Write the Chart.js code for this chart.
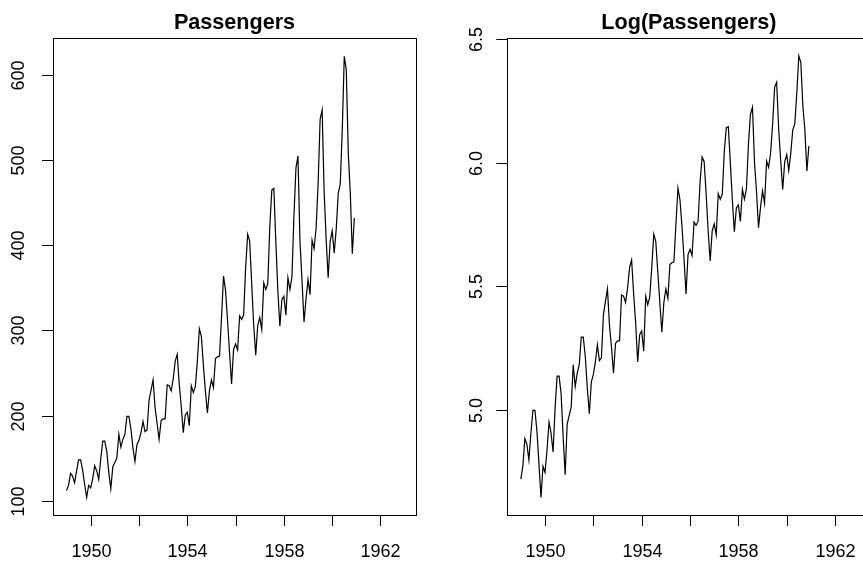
<!DOCTYPE html>
<html>
<head>
<meta charset="utf-8">
<script src="https://cdn.jsdelivr.net/npm/chart.js@4/dist/chart.umd.min.js"></script>
<style>
  html, body { margin: 0; padding: 0; background: #fff; overflow: hidden; }
  body { width: 863px; height: 561px; position: relative; }
  .panel { position: absolute; top: 0; }
  #left { left: 0; width: 431px; height: 561px; }
  #right { left: 431px; width: 450px; height: 561px; }
</style>
</head>
<body>
<div class="panel" id="left"><canvas id="c1" width="431" height="561"></canvas></div>
<div class="panel" id="right"><canvas id="c2" width="450" height="561"></canvas></div>
<script>
// Monthly international airline passengers (thousands), 1949-1960
const years = [1949, 1950, 1951, 1952, 1953, 1954, 1955, 1956, 1957, 1958, 1959, 1960];
const passengers = [
  112, 118, 132, 129, 121, 135, 148, 148, 136, 119, 104, 118,
  115, 126, 141, 135, 125, 149, 170, 170, 158, 133, 114, 140,
  145, 150, 178, 163, 172, 178, 199, 199, 184, 162, 146, 166,
  171, 180, 193, 181, 183, 218, 230, 242, 209, 191, 172, 194,
  196, 196, 236, 235, 229, 243, 264, 272, 237, 211, 180, 201,
  204, 188, 235, 227, 234, 264, 302, 293, 259, 229, 203, 229,
  242, 233, 267, 269, 270, 315, 364, 347, 312, 274, 237, 278,
  284, 277, 317, 313, 318, 374, 413, 405, 355, 306, 271, 306,
  315, 301, 356, 348, 355, 422, 465, 467, 404, 347, 305, 336,
  340, 318, 362, 348, 363, 435, 491, 505, 404, 359, 310, 337,
  360, 342, 406, 396, 420, 472, 548, 559, 463, 407, 362, 405,
  417, 391, 419, 461, 472, 535, 622, 606, 508, 461, 390, 432
];
const xTicks = [1950, 1952, 1954, 1956, 1958, 1960, 1962];
const xTickLabels = ['1950', '', '1954', '', '1958', '', '1962'];
const yTicksRaw = [100, 200, 300, 400, 500, 600];
const yTicksLog = [5.0, 5.5, 6.0, 6.5];
const yTickLabelsLog = ['5.0', '5.5', '6.0', '6.5'];

const FONT = '"Liberation Sans", Arial, Helvetica, sans-serif';

function seriesPoints(values, transform) {
  const pts = [];
  years.forEach((yr, i) => {
    for (let m = 0; m < 12; m++) {
      pts.push({ x: yr + m / 12, y: transform(values[i * 12 + m]) });
    }
  });
  return pts;
}

// Draws the framed axes, ticks, labels and title in base-graphics style
function framePlugin(opts) {
  return {
    id: 'frame',
    afterDraw(chart) {
      const ctx = chart.ctx;
      const a = chart.chartArea;
      const xs = chart.scales.x, ys = chart.scales.y;
      ctx.save();
      ctx.strokeStyle = '#000';
      ctx.fillStyle = '#000';
      ctx.lineWidth = 1;
      // box
      ctx.strokeRect(Math.round(a.left) + 0.5, Math.round(a.top) + 0.5,
                     Math.round(a.right - a.left), Math.round(a.bottom - a.top));
      // x axis ticks
      ctx.font = '18px ' + FONT;
      ctx.textAlign = 'center';
      ctx.textBaseline = 'alphabetic';
      xTicks.forEach((t, i) => {
        const px = Math.round(xs.getPixelForValue(t)) + 0.5;
        ctx.beginPath();
        ctx.moveTo(px, a.bottom);
        ctx.lineTo(px, a.bottom + 11);
        ctx.stroke();
        if (xTickLabels[i]) ctx.fillText(xTickLabels[i], px, 556.5);
      });
      // y axis ticks, labels rotated
      opts.yTicks.forEach((t, i) => {
        const py = Math.round(ys.getPixelForValue(t)) + 0.5;
        ctx.beginPath();
        ctx.moveTo(a.left, py);
        ctx.lineTo(a.left - 11, py);
        ctx.stroke();
        ctx.save();
        ctx.translate(opts.yLabelX, py);
        ctx.rotate(-Math.PI / 2);
        ctx.fillText(opts.yLabels[i], 0, 0);
        ctx.restore();
      });
      // title, centred over the plot box
      ctx.font = 'bold 21.6px ' + FONT;
      ctx.fillText(opts.title, (a.left + a.right) / 2, 29.3);
      ctx.restore();
    }
  };
}

function makeChart(id, data, yMin, yMax, padding, opts) {
  return new Chart(document.getElementById(id), {
    type: 'line',
    data: {
      datasets: [{
        data: data,
        borderColor: '#000',
        borderWidth: 1.2,
        pointRadius: 0,
        tension: 0,
        fill: false
      }]
    },
    options: {
      responsive: false,
      animation: false,
      layout: { padding: padding },
      plugins: { legend: { display: false }, tooltip: { enabled: false }, title: { display: false } },
      scales: {
        x: { type: 'linear', min: 1948.44, max: 1963.47, display: false },
        y: { type: 'linear', min: yMin, max: yMax, display: false }
      }
    },
    plugins: [framePlugin(opts)]
  });
}

makeChart('c1', seriesPoints(passengers, v => v), 83.2, 643.5,
  { left: 53, right: 15, top: 38, bottom: 46 },
  { yTicks: yTicksRaw, yLabels: yTicksRaw.map(String), yLabelX: 24, title: 'Passengers' });

makeChart('c2', seriesPoints(passengers, v => Math.log(v)), 4.573, 6.504,
  { left: 76.3, right: 10.4, top: 38.3, bottom: 46 },
  { yTicks: yTicksLog, yLabels: yTickLabelsLog, yLabelX: 51.3, title: 'Log(Passengers)' });
</script>
</body>
</html>
